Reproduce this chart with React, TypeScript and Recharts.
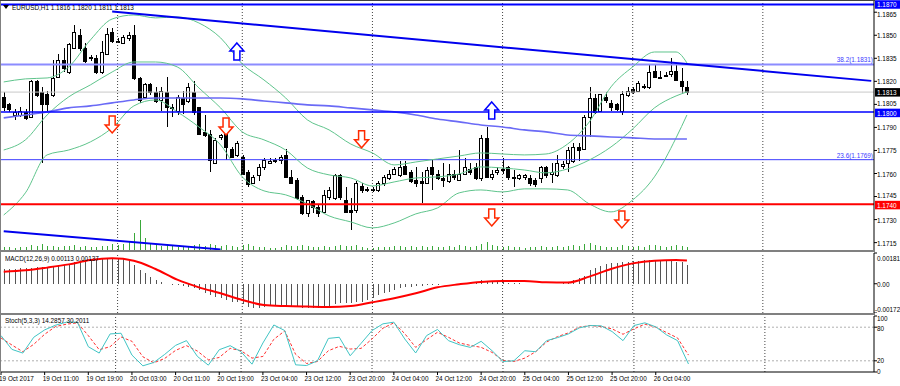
import React from 'react';
import { ComposedChart, Bar, Line, XAxis, YAxis, ReferenceLine, ReferenceDot } from 'recharts';

const FONT = '"Liberation Sans", Arial, sans-serif';
const W = 900;
const AXIS_W = 26;
const SLOTS = 161; // 127 bars + empty shift space on the right

// H1 bars from 19 Oct 03:00 to 26 Oct 10:00: open, high, low, close
const candles: number[][] = [
  [1.1810, 1.1813, 1.1801, 1.1803], [1.1805, 1.1806, 1.1800, 1.1802], [1.1798, 1.1802, 1.1795, 1.1800],
  [1.1798, 1.1803, 1.1797, 1.1801], [1.1800, 1.1802, 1.1795, 1.1796], [1.1797, 1.1821, 1.1796, 1.1820],
  [1.1820, 1.1821, 1.1810, 1.1811], [1.1813, 1.1816, 1.1767, 1.1805], [1.1812, 1.1814, 1.1801, 1.1805],
  [1.1811, 1.1834, 1.1810, 1.1822], [1.1823, 1.1838, 1.1822, 1.1834], [1.1834, 1.1842, 1.1826, 1.1829],
  [1.1826, 1.1845, 1.1825, 1.1844], [1.1842, 1.1857, 1.1842, 1.1852], [1.1850, 1.1854, 1.1840, 1.1842],
  [1.1842, 1.1845, 1.1832, 1.1833], [1.1835, 1.1837, 1.1833, 1.1836], [1.1835, 1.1837, 1.1825, 1.1826],
  [1.1826, 1.1846, 1.1825, 1.1839], [1.1838, 1.1855, 1.1837, 1.1851], [1.1852, 1.1855, 1.1845, 1.1846],
  [1.1846, 1.1848, 1.1845, 1.1846], [1.1845, 1.1850, 1.1844, 1.1849], [1.1848, 1.1852, 1.1846, 1.1850],
  [1.1850, 1.1857, 1.1821, 1.1822], [1.1822, 1.1823, 1.1806, 1.1808], [1.1810, 1.1819, 1.1809, 1.1818],
  [1.1818, 1.1819, 1.1811, 1.1813], [1.1813, 1.1816, 1.1806, 1.1807], [1.1808, 1.1816, 1.1801, 1.1814],
  [1.1813, 1.1823, 1.1790, 1.1803], [1.1803, 1.1805, 1.1797, 1.1803], [1.1801, 1.1811, 1.1798, 1.1810],
  [1.1809, 1.1814, 1.1799, 1.1805], [1.1807, 1.1819, 1.1806, 1.1816], [1.1813, 1.1820, 1.1798, 1.1800],
  [1.1803, 1.1803, 1.1785, 1.1786], [1.1787, 1.1798, 1.1784, 1.1785], [1.1786, 1.1788, 1.1761, 1.1769],
  [1.1767, 1.1783, 1.1766, 1.1782], [1.1784, 1.1786, 1.1782, 1.1785], [1.1786, 1.1787, 1.1769, 1.1777],
  [1.1776, 1.1777, 1.1770, 1.1771], [1.1772, 1.1781, 1.1771, 1.1780], [1.1771, 1.1772, 1.1759, 1.1760],
  [1.1761, 1.1762, 1.1751, 1.1753], [1.1754, 1.1759, 1.1753, 1.1758], [1.1759, 1.1766, 1.1755, 1.1764],
  [1.1764, 1.1770, 1.1762, 1.1769], [1.1767, 1.1770, 1.1766, 1.1768], [1.1768, 1.1770, 1.1767, 1.1769],
  [1.1769, 1.1772, 1.1766, 1.1771], [1.1772, 1.1776, 1.1757, 1.1758], [1.1758, 1.1762, 1.1753, 1.1754],
  [1.1756, 1.1757, 1.1743, 1.1744], [1.1745, 1.1746, 1.1733, 1.1734], [1.1734, 1.1743, 1.1732, 1.1743],
  [1.1742, 1.1743, 1.1734, 1.1738], [1.1738, 1.1740, 1.1732, 1.1734], [1.1735, 1.1749, 1.1734, 1.1746],
  [1.1745, 1.1751, 1.1743, 1.1749], [1.1744, 1.1760, 1.1743, 1.1759], [1.1759, 1.1760, 1.1743, 1.1745],
  [1.1743, 1.1751, 1.1734, 1.1735], [1.1736, 1.1744, 1.1723, 1.1735], [1.1736, 1.1755, 1.1734, 1.1754],
  [1.1752, 1.1754, 1.1747, 1.1749], [1.1749, 1.1751, 1.1748, 1.1750], [1.1750, 1.1751, 1.1748, 1.1749],
  [1.1749, 1.1755, 1.1748, 1.1754], [1.1754, 1.1759, 1.1752, 1.1758], [1.1757, 1.1762, 1.1756, 1.1760],
  [1.1760, 1.1764, 1.1759, 1.1763], [1.1759, 1.1768, 1.1758, 1.1764], [1.1765, 1.1768, 1.1759, 1.1760],
  [1.1761, 1.1762, 1.1754, 1.1755], [1.1756, 1.1764, 1.1751, 1.1754], [1.1755, 1.1761, 1.1741, 1.1754],
  [1.1754, 1.1764, 1.1753, 1.1762], [1.1764, 1.1769, 1.1749, 1.1760], [1.1760, 1.1762, 1.1756, 1.1757],
  [1.1757, 1.1767, 1.1751, 1.1756], [1.1755, 1.1766, 1.1754, 1.1760], [1.1760, 1.1762, 1.1756, 1.1758],
  [1.1756, 1.1775, 1.1755, 1.1760], [1.1760, 1.1770, 1.1759, 1.1764], [1.1763, 1.1767, 1.1759, 1.1761],
  [1.1764, 1.1767, 1.1756, 1.1757], [1.1757, 1.1785, 1.1755, 1.1783], [1.1783, 1.1790, 1.1757, 1.1758],
  [1.1758, 1.1762, 1.1756, 1.1760], [1.1761, 1.1764, 1.1759, 1.1762], [1.1762, 1.1770, 1.1760, 1.1763],
  [1.1764, 1.1765, 1.1756, 1.1758], [1.1758, 1.1762, 1.1751, 1.1757], [1.1757, 1.1760, 1.1756, 1.1759],
  [1.1758, 1.1760, 1.1756, 1.1759], [1.1757, 1.1759, 1.1752, 1.1754], [1.1756, 1.1757, 1.1751, 1.1753],
  [1.1757, 1.1765, 1.1754, 1.1764], [1.1764, 1.1765, 1.1757, 1.1759], [1.1760, 1.1767, 1.1754, 1.1761],
  [1.1759, 1.1772, 1.1758, 1.1767], [1.1765, 1.1768, 1.1763, 1.1766], [1.1767, 1.1777, 1.1761, 1.1775],
  [1.1768, 1.1780, 1.1767, 1.1777], [1.1777, 1.1780, 1.1768, 1.1775], [1.1776, 1.1798, 1.1775, 1.1797],
  [1.1797, 1.1816, 1.1784, 1.1809], [1.1809, 1.1812, 1.1799, 1.1800], [1.1801, 1.1812, 1.1800, 1.1812],
  [1.1810, 1.1813, 1.1806, 1.1808], [1.1806, 1.1808, 1.1801, 1.1803], [1.1805, 1.1806, 1.1801, 1.1802],
  [1.1801, 1.1814, 1.1798, 1.1812], [1.1811, 1.1816, 1.1810, 1.1814], [1.1815, 1.1816, 1.1812, 1.1813],
  [1.1814, 1.1820, 1.1813, 1.1819], [1.1817, 1.1818, 1.1815, 1.1816], [1.1816, 1.1831, 1.1815, 1.1826],
  [1.1827, 1.1831, 1.1822, 1.1823], [1.1823, 1.1827, 1.1822, 1.1823], [1.1824, 1.1826, 1.1823, 1.1824],
  [1.1825, 1.1835, 1.1823, 1.1827], [1.1827, 1.1832, 1.1820, 1.1821], [1.1820, 1.1829, 1.1812, 1.1817],
  [1.1816, 1.1820, 1.1811, 1.1813],
];

// tick volume per bar
const volumes = [
  360, 360, 240, 360, 360, 600, 480, 720, 480, 480, 360, 480, 480, 600, 360, 480, 360, 360, 480, 480,
  720, 600, 720, 960, 2040, 3600, 1440, 840, 600, 480,
  720, 480, 360, 480, 360, 600, 720, 480, 720, 600,
  480, 600, 480, 360, 600, 720, 480, 360, 360, 240,
  240, 360, 600, 480, 480, 600, 480, 360, 360, 480,
  360, 480, 600, 480, 480, 600, 360, 240, 240, 360,
  360, 360, 480, 480, 360, 480, 360, 480, 360, 480,
  360, 360, 480, 360, 600, 480, 360, 480, 720, 960,
  600, 480, 360, 480, 360, 360, 240, 360, 360, 480,
  360, 360, 480, 360, 480, 600, 480, 720, 840, 600,
  480, 360, 360, 360, 600, 480, 360, 480, 360, 600,
  600, 480, 360, 480, 600, 480, 360,
];

// Bollinger bands and slow MA, read every 4th bar (and the last bar)
const bbUpper = [1.18196, 1.18216, 1.18222, 1.18294, 1.18470, 1.18606, 1.18632, 1.18613, 1.18619, 1.18580, 1.18483,
  1.18313, 1.18209, 1.18092, 1.17949, 1.17884, 1.17792, 1.17734, 1.17656, 1.17675, 1.17695, 1.17714, 1.17734,
  1.17727, 1.17721, 1.17727, 1.17792, 1.17936, 1.18164, 1.18294, 1.18391, 1.18391, 1.18320];
const bbMiddle = [1.17753, 1.17819, 1.17981, 1.18099, 1.18177, 1.18261, 1.18326, 1.18326, 1.18294, 1.18157, 1.18027,
  1.17871, 1.17819, 1.17753, 1.17636, 1.17591, 1.17571, 1.17519, 1.17545, 1.17571, 1.17578, 1.17597, 1.17643,
  1.17636, 1.17623, 1.17604, 1.17630, 1.17688, 1.17773, 1.17890, 1.18027, 1.18105, 1.18131];
const bbLower = [1.17330, 1.17474, 1.17721, 1.17753, 1.17806, 1.17897, 1.18040, 1.18079, 1.18001, 1.17903, 1.17786,
  1.17578, 1.17487, 1.17461, 1.17402, 1.17324, 1.17285, 1.17246, 1.17278, 1.17337, 1.17376, 1.17474, 1.17493,
  1.17480, 1.17500, 1.17500, 1.17493, 1.17402, 1.17350, 1.17428, 1.17578, 1.17832, 1.17981];
const maSlow = [1.17962, 1.17981, 1.18001, 1.18027, 1.18040, 1.18060, 1.18079, 1.18092, 1.18092, 1.18092, 1.18092,
  1.18086, 1.18072, 1.18060, 1.18047, 1.18040, 1.18027, 1.18014, 1.18001, 1.17981, 1.17955, 1.17936, 1.17916,
  1.17903, 1.17884, 1.17871, 1.17851, 1.17845, 1.17838, 1.17832, 1.17825, 1.17825, 1.17825];
const macdSignal = [0.00071, 0.00079, 0.00095, 0.00114, 0.00140, 0.00150, 0.00136, 0.00087, 0.00024, -0.00021,
  -0.00056, -0.00095, -0.00125, -0.00131, -0.00134, -0.00136, -0.00131, -0.00109, -0.00085, -0.00056, -0.00021,
  -0.00003, 0.00011, 0.00016, 0.00016, 0.00009, 0.00007, 0.00042, 0.00087, 0.00120, 0.00136, 0.00140, 0.00137];

// MACD main value per bar
const macdHist = [
  0.00087, 0.00087, 0.00089, 0.00091, 0.00091, 0.00095, 0.00097, 0.00097, 0.00099, 0.00101,
  0.00105, 0.00111, 0.00116, 0.00126, 0.00130, 0.00136, 0.00140, 0.00142, 0.00144, 0.00148,
  0.00150, 0.00150, 0.00146, 0.00134, 0.00111, 0.00081, 0.00062, 0.00042, 0.00022, 0.00009,
  -0.00001, -0.00007, -0.00009, -0.00011, -0.00017, -0.00023, -0.00038, -0.00052, -0.00066, -0.00076,
  -0.00085, -0.00095, -0.00105, -0.00109, -0.00121, -0.00134, -0.00140, -0.00140, -0.00136, -0.00132,
  -0.00131, -0.00131, -0.00132, -0.00134, -0.00136, -0.00140, -0.00142, -0.00144, -0.00144, -0.00136,
  -0.00129, -0.00121, -0.00115, -0.00115, -0.00113, -0.00109, -0.00105, -0.00095, -0.00082, -0.00066,
  -0.00056, -0.00046, -0.00036, -0.00027, -0.00021, -0.00017, -0.00013, -0.00011, -0.00009, -0.00007,
  -0.00005, -0.00003, -0.00003, -0.00001, 0.00001, 0.00001, 0.00003, 0.00003, 0.00022, 0.00016,
  0.00013, 0.00013, 0.00011, 0.00007, 0.00005, 0.00003, 0.00001, -0.00001, -0.00003, -0.00003,
  -0.00003, -0.00003, -0.00001, 0.00003, 0.00009, 0.00024, 0.00032, 0.00048, 0.00079, 0.00091,
  0.00105, 0.00114, 0.00120, 0.00124, 0.00128, 0.00130, 0.00134, 0.00136, 0.00138, 0.00140,
  0.00140, 0.00140, 0.00138, 0.00136, 0.00130, 0.00126, 0.00113,
];

// Stochastic %K and %D, read every 2nd bar
const stochMain = [65, 40.4, 33.8, 62, 75.2, 83.6, 89, 89, 45.2, 33.8, 68, 69.2, 30.2, 11, 17, 31.4, 47.6, 56, 27.8,
  12.2, 39.8, 47, 36.2, 14, 51.8, 84, 74, 12.8, 11.6, 20, 60, 62, 29, 51.2, 74, 86, 89, 59, 34, 65, 76, 56, 48.8,
  44, 54.8, 38, 18.8, 20, 38, 36.2, 56, 61.4, 68, 78.8, 83, 82.4, 72.2, 56, 83, 87.8, 80.6, 66.2, 56, 14.3];
const stochSignal = [60.8, 48.2, 36.2, 49.4, 67.4, 81.2, 85.4, 87.8, 65, 39.8, 45.2, 62.6, 54.8, 27.2, 16.4, 24.2,
  38.6, 47, 37.4, 21.8, 26, 42.2, 38, 24.8, 27.8, 58.4, 73.4, 31.4, 15.2, 18.8, 38, 45.8, 41, 42.2, 59, 78.2, 87.8,
  68.6, 44, 57.8, 71, 62, 51.8, 47.6, 44, 35, 20.6, 18.8, 24.8, 36.2, 53.6, 63.2, 69.8, 80, 83, 81.2, 77, 67.4, 77,
  85.4, 80, 70.4, 60.8, 30.2];

const xLabels = ['19 Oct 2017', '19 Oct 11:00', '19 Oct 19:00', '20 Oct 03:00', '20 Oct 11:00', '20 Oct 19:00',
  '23 Oct 04:00', '23 Oct 12:00', '23 Oct 20:00', '24 Oct 04:00', '24 Oct 12:00', '24 Oct 20:00',
  '25 Oct 04:00', '25 Oct 12:00', '25 Oct 20:00', '26 Oct 04:00'];
const priceTicks = [1.1865, 1.1850, 1.1835, 1.1820, 1.1805, 1.1790, 1.1775, 1.1760, 1.1745, 1.1730, 1.1715];
const daySeps = [21, 44, 68, 92, 116, 140];

// chart objects
const topLevel = 1.1870;
const fib382 = 1.1831;
const lastPrice = 1.1813;
const level1800 = 1.1800;
const fib236 = 1.1769;
const level1740 = 1.1740;
const tagLevels = [topLevel, lastPrice, level1800, level1740];
const trendTop = [{ i: 20, p: 1.18654 }, { i: 160, p: 1.18203 }];
const trendLow = [{ i: 0, p: 1.17224 }, { i: 40, p: 1.17106 }];
const arrowsUp = [{ i: 43, p: 1.1845 }, { i: 90, p: 1.18066 }];
const arrowsDown = [{ i: 20, p: 1.17864 }, { i: 41, p: 1.17851 }, { i: 66, p: 1.17767 }, { i: 90, p: 1.17259 }, { i: 114, p: 1.17246 }];

const bandIdx = Array.from({ length: 32 }, (_, k) => k * 4).concat(126);
const stochIdx = Array.from({ length: 64 }, (_, k) => k * 2);
const labelIdx = xLabels.map((_, k) => k * 8);

const rows: any[] = Array.from({ length: SLOTS }, (_, i) => {
  const row: any = { i };
  const c = candles[i];
  if (c) {
    row.o = c[0]; row.h = c[1]; row.l = c[2]; row.c = c[3];
    row.range = [c[2], c[1]];
    row.vol = volumes[i];
    row.hist = macdHist[i];
  }
  return row;
});
bandIdx.forEach((idx, k) => {
  rows[idx].up = bbUpper[k];
  rows[idx].mid = bbMiddle[k];
  rows[idx].low = bbLower[k];
  rows[idx].ma = maSlow[k];
  rows[idx].sig = macdSignal[k];
});
stochIdx.forEach((idx, k) => {
  rows[idx].k = stochMain[k];
  rows[idx].d = stochSignal[k];
});

const last = candles[candles.length - 1];

const Txt = ({ x, y, children, fill = '#000', anchor = 'start' }: any) => (
  <text transform={`translate(${x},${y}) scale(0.8,1)`} fontSize={8} fontFamily={FONT} fill={fill} textAnchor={anchor}>
    {children}
  </text>
);

// nudge a tick label a little away from a price tag that sits right next to it
const PriceTick = ({ x, y, payload }: any) => {
  const v = payload.value;
  const tagBelow = tagLevels.some(t => v - t > 0 && v - t < 0.0006);
  const tagAbove = tagLevels.some(t => t - v > 0 && t - v < 0.0006);
  const dy = tagBelow ? -1.2 : tagAbove ? 1.8 : 0;
  return <Txt x={x} y={y + 3 + dy}>{v.toFixed(4)}</Txt>;
};
const MacdTick = ({ x, y, payload }: any) => {
  const v = payload.value;
  const off = v > 0 ? 4.5 : v < 0 ? -4.5 : 0;
  return <Txt x={v < 0 ? x - 2 : x} y={y + off + 3}>{v === 0 ? '0.00' : v.toFixed(5)}</Txt>;
};
const StochTick = ({ x, y, payload }: any) => {
  const v = payload.value;
  const off = v === 100 ? 2.2 : v === 80 ? 0.8 : v === 0 ? -1.5 : v === 20 ? -1 : 0;
  return <Txt x={x} y={y + off + 3}>{v}</Txt>;
};
const TimeTick = ({ x, y, payload }: any) => <Txt x={x - 2} y={y + 6}>{xLabels[payload.value / 8]}</Txt>;

const Tag = ({ viewBox, text, bg, dy = 0 }: any) => {
  const x = viewBox.x + viewBox.width + 1;
  return (
    <g>
      <rect x={x} y={viewBox.y - 4 + dy / 2} width={25} height={8.5} fill={bg} />
      <Txt x={x + 2} y={viewBox.y + 2.8 + dy} fill="#fff">{text}</Txt>
    </g>
  );
};
const FibText = ({ viewBox, text }: any) => (
  <Txt x={viewBox.x + viewBox.width - 1} y={viewBox.y - 2} fill="#3c3cff" anchor="end">{text}</Txt>
);

const Candle = (props: any) => {
  const { x, y, width, height, payload } = props;
  if (!payload || payload.o == null) return null;
  const { o, h, l, c } = payload;
  const cx = Math.round(x + width / 2);
  const span = h - l || 1e-9;
  const py = (v: number) => y + ((h - v) / span) * height;
  const top = Math.round(py(Math.max(o, c)));
  const bot = Math.round(py(Math.min(o, c)));
  const bull = c >= o;
  return (
    <g shapeRendering="crispEdges">
      <line x1={cx + 0.5} x2={cx + 0.5} y1={y} y2={y + height} stroke="#000" />
      <rect x={cx - 1.5} y={top + 0.5} width={3} height={Math.max(bot - top, 1)} fill={bull ? '#fff' : '#000'} stroke="#000" />
    </g>
  );
};

const Stick = (color: string) => (props: any) => {
  const { x, y, width, height } = props;
  if (!height || isNaN(y)) return null;
  const cx = Math.round(x + width / 2) + 0.5;
  return <line x1={cx} x2={cx} y1={y} y2={y + height} stroke={color} shapeRendering="crispEdges" />;
};

const Arrow = ({ cx, cy, dir, color }: any) => {
  const s = dir === 'up' ? 1 : -1;
  const pts = [
    [0, 0], [7, 8], [3, 8], [3, 17], [-3, 17], [-3, 8], [-7, 8],
  ].map(([dx, dy]) => `${cx + dx},${cy + s * dy}`).join(' ');
  return <polygon points={pts} fill="#fff" stroke={color} strokeWidth={1.5} />;
};

const Label = ({ left, top, text }: any) => (
  <div style={{ position: 'absolute', left, top, fontSize: 8, lineHeight: '10px', fontFamily: FONT, transform: 'scaleX(0.8)', transformOrigin: '0 0', whiteSpace: 'nowrap', color: '#000' }}>{text}</div>
);

const sepStyle = { strokeDasharray: '1 2', stroke: '#444' };

export default function App() {
  return (
    <div style={{ position: 'absolute', left: 0, top: 0, width: 900, height: 386, background: '#fff', overflow: 'hidden' }}>
      <div style={{ position: 'absolute', left: 0, top: 0 }}>
        <ComposedChart width={W} height={250} data={rows} margin={{ top: 1, right: 0, bottom: 0, left: 1 }} barSize={4} barGap={-4}>
          <XAxis dataKey="i" hide />
          <YAxis yAxisId="p" orientation="right" width={AXIS_W} domain={[1.17102, 1.18723]} allowDataOverflow type="number"
            ticks={priceTicks} interval={0} tickSize={3} tickMargin={0} tick={<PriceTick />}
            axisLine={{ stroke: '#000' }} tickLine={{ stroke: '#000' }} />
          <YAxis yAxisId="v" hide domain={[0, 30000]} allowDataOverflow />
          {daySeps.map(d => <ReferenceLine key={d} yAxisId="p" x={d} {...sepStyle} />)}
          <ReferenceLine yAxisId="p" y={lastPrice} stroke="#c8c8c8" label={<Tag text={lastPrice.toFixed(4)} bg="#000" />} />
          <ReferenceLine yAxisId="p" y={fib382} stroke="#8c8cff" strokeWidth={2} label={<FibText text={`38.2(${fib382.toFixed(4)})`} />} />
          <ReferenceLine yAxisId="p" y={fib236} stroke="#3c3cff" label={<FibText text={`23.6(${fib236.toFixed(4)})`} />} />
          <Bar yAxisId="v" dataKey="vol" shape={Stick('#3aa83a')} isAnimationActive={false} />
          <Line yAxisId="p" dataKey="up" type="monotone" stroke="#5fc48c" strokeWidth={1} dot={false} connectNulls isAnimationActive={false} />
          <Line yAxisId="p" dataKey="mid" type="monotone" stroke="#5fc48c" strokeWidth={1} dot={false} connectNulls isAnimationActive={false} />
          <Line yAxisId="p" dataKey="low" type="monotone" stroke="#5fc48c" strokeWidth={1} dot={false} connectNulls isAnimationActive={false} />
          <Line yAxisId="p" dataKey="ma" type="monotone" stroke="#6a6af6" strokeWidth={1.6} dot={false} connectNulls isAnimationActive={false} />
          <ReferenceLine yAxisId="p" y={level1800} stroke="#0000ff" strokeWidth={1.5} label={<Tag text={level1800.toFixed(4)} bg="#0000ff" dy={1.2} />} />
          <ReferenceLine yAxisId="p" y={level1740} stroke="#ff0000" strokeWidth={2} label={<Tag text={level1740.toFixed(4)} bg="#ff0000" dy={1.2} />} />
          <ReferenceLine yAxisId="p" y={topLevel} stroke="#0000ff" strokeWidth={2} label={<Tag text={topLevel.toFixed(4)} bg="#0000ff" dy={-0.6} />} />
          <ReferenceLine yAxisId="p" segment={trendTop.map(t => ({ x: t.i, y: t.p }))} stroke="#0000ee" strokeWidth={2} />
          <ReferenceLine yAxisId="p" segment={trendLow.map(t => ({ x: t.i, y: t.p }))} stroke="#0000ee" strokeWidth={2} />
          <Bar yAxisId="p" dataKey="range" shape={Candle} isAnimationActive={false} />
          {arrowsUp.map((a, k) => (
            <ReferenceDot key={'u' + k} yAxisId="p" x={a.i} y={a.p} shape={(p: any) => <Arrow {...p} dir="up" color="#0000ff" />} />
          ))}
          {arrowsDown.map((a, k) => (
            <ReferenceDot key={'d' + k} yAxisId="p" x={a.i} y={a.p} shape={(p: any) => <Arrow {...p} dir="down" color="#ff2a00" />} />
          ))}
        </ComposedChart>
      </div>

      <div style={{ position: 'absolute', left: 0, top: 252 }}>
        <ComposedChart width={W} height={61} data={rows} margin={{ top: 1, right: 0, bottom: 0, left: 1 }} barSize={4}>
          <XAxis dataKey="i" hide />
          <YAxis orientation="right" width={AXIS_W} domain={[-0.00172, 0.00181]} allowDataOverflow type="number"
            ticks={[0.00181, 0, -0.00172]} interval={0} tickSize={3} tickMargin={0} tick={<MacdTick />}
            axisLine={{ stroke: '#000' }} tickLine={{ stroke: '#000' }} />
          {daySeps.map(d => <ReferenceLine key={d} x={d} {...sepStyle} />)}
          <Bar dataKey="hist" shape={Stick('#555555')} isAnimationActive={false} />
          <Line dataKey="sig" type="monotone" stroke="#ff0000" strokeWidth={2} dot={false} connectNulls isAnimationActive={false} />
        </ComposedChart>
      </div>

      <div style={{ position: 'absolute', left: 0, top: 314 }}>
        <ComposedChart width={W} height={72} data={rows} margin={{ top: 2, right: 0, bottom: 0, left: 1 }}>
          <XAxis dataKey="i" height={14} ticks={labelIdx} interval={0} tickSize={3} tickMargin={0} tick={<TimeTick />}
            axisLine={{ stroke: '#000' }} tickLine={{ stroke: '#000' }} />
          <YAxis orientation="right" width={AXIS_W} domain={[0, 100]} allowDataOverflow type="number"
            ticks={[100, 80, 20, 0]} interval={0} tickSize={3} tickMargin={0} tick={<StochTick />}
            axisLine={{ stroke: '#000' }} tickLine={{ stroke: '#000' }} />
          {daySeps.map(d => <ReferenceLine key={d} x={d} {...sepStyle} />)}
          <ReferenceLine y={80} stroke="#b0b0b0" strokeDasharray="2 2" />
          <ReferenceLine y={20} stroke="#b0b0b0" strokeDasharray="2 2" />
          <Line dataKey="d" type="linear" stroke="#ff3030" strokeWidth={1} strokeDasharray="3 2" dot={false} connectNulls isAnimationActive={false} />
          <Line dataKey="k" type="linear" stroke="#40c4c4" strokeWidth={1} dot={false} connectNulls isAnimationActive={false} />
        </ComposedChart>
      </div>

      <div style={{ position: 'absolute', left: 0, top: 250, width: 875, height: 2, background: '#808080' }} />
      <div style={{ position: 'absolute', left: 0, top: 313, width: 875, height: 2, background: '#808080' }} />
      <div style={{ position: 'absolute', left: 0, top: 0, width: 1, height: 372, background: '#808080' }} />
      <div style={{ position: 'absolute', left: 0, top: 0, width: 875, height: 1, background: '#404040' }} />

      <svg style={{ position: 'absolute', left: 3, top: 5 }} width={7} height={5}>
        <polygon points="0,0 6,0 3,4" fill="#000" />
      </svg>
      <Label left={12} top={3} text={`EURUSD,H1 ${last.map(v => v.toFixed(4)).join(' ')}`} />
      <Label left={5} top={254} text={`MACD(12,26,9) ${macdHist[macdHist.length - 1].toFixed(5)} ${macdSignal[macdSignal.length - 1].toFixed(5)}`} />
      <Label left={5} top={316} text="Stoch(5,3,3) 14.2857 30.2011" />
    </div>
  );
}
